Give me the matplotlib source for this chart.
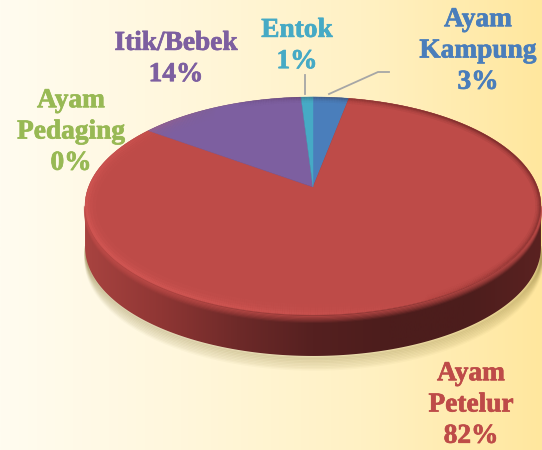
import numpy as np
import matplotlib
matplotlib.use("Agg")
import matplotlib.pyplot as plt
import matplotlib.patheffects as pe
from matplotlib.colors import LinearSegmentedColormap
from matplotlib.patches import Polygon
from matplotlib.collections import LineCollection

categories = ["Ayam\nKampung", "Ayam\nPetelur", "Ayam\nPedaging", "Itik/Bebek", "Entok"]
values = [3, 82, 0, 14, 1]
colors = ["#4a7ebb", "#be4b48", "#98b954", "#7d5fa0", "#46aac5"]
label_pos = [(478, 51), (471, 405), (71, 132), (176, 59), (297, 46)]

W, H = 542, 450
cx, cy = 313, 187
A, B, k = 224.5, 105.7, 0.174
depth = 41


def outline(theta):
    # tilted disc: maps an angle (clockwise from top) to the picture
    w = 1 + k * np.cos(theta)
    return cx + A * np.sin(theta) / w, cy - B * np.cos(theta) / w


fig = plt.figure(figsize=(W / 100, H / 100), dpi=100)
ax = fig.add_axes([0, 0, 1, 1])

bg = LinearSegmentedColormap.from_list("bg", ["#fffcf0", "#fff7dc", "#fff1c4", "#ffe79e"])
ax.imshow(np.linspace(0, 1, 256)[None, :], cmap=bg, extent=[0, W, H, 0], aspect="auto", zorder=0)

t = np.linspace(0, 2 * np.pi, 721)
ex, ey = outline(t)
left = int(np.argmin(ex))
right = int(np.argmax(ex))
# lower half runs from the right extreme to the left extreme
lx, ly = ex[right:left + 1], ey[right:left + 1]
side_xy = np.r_[np.c_[lx, ly + depth], np.c_[ex[left:], ey[left:]], np.c_[ex[:right + 1], ey[:right + 1]]]

# soft shadow under the disc
for i in range(9):
    ax.plot(lx + 1, ly + depth + 1 + i * 1.5, color="#8a7a3a", lw=2.5, alpha=0.15 - i * 0.014, zorder=1)

side_cmap = LinearSegmentedColormap.from_list(
    "side", ["#a84340", "#8f3634", "#6e2a29", "#552020", "#4c1d1c", "#4c1d1c", "#5a2221"])
side = Polygon(side_xy, closed=True, fc="none", ec="none", zorder=2)
ax.add_patch(side)
im = ax.imshow(np.linspace(0, 1, 256)[None, :], cmap=side_cmap, aspect="auto",
               extent=[ex.min(), ex.max(), H, 0], zorder=2)
im.set_clip_path(side)
ax.set_xlim(0, W)
ax.set_ylim(H, 0)
ax.axis("off")

# front rim fades into the dark side
for i in range(6):
    ax.plot(lx, ly + 1 + i * 1.2, color="#be4b48", lw=1.6, alpha=0.6 - i * 0.1, zorder=2.5)

# slices, clockwise from the top
fracs = np.cumsum([0] + values) / sum(values) * 2 * np.pi
for v, c, a0, a1 in zip(values, colors, fracs[:-1], fracs[1:]):
    if v == 0:
        continue
    th = np.linspace(a0, a1, max(int(v * 8), 10))
    x, y = outline(th)
    ax.add_patch(Polygon(np.r_[[[cx, cy]], np.c_[x, y]], closed=True, fc=c, ec=c, lw=0.3, zorder=3))

# bevel along the rim: light on the left and the front, dark at the back right
surface = Polygon(np.c_[ex, ey], closed=True, fc="none", ec="none", zorder=4)
ax.add_patch(surface)
segs = np.stack([np.c_[ex[:-1], ey[:-1]], np.c_[ex[1:], ey[1:]]], axis=1)
mid = (t[:-1] + t[1:]) / 2
light = np.clip(-np.cos(mid) * 0.5 - np.sin(mid) * 0.9, 0, 1)
dark = np.clip(np.sin(mid) * 0.9 + np.cos(mid) * 0.4, 0, 1)
for lw, al in [(16, 0.06), (11, 0.09), (7, 0.13), (4, 0.16)]:
    rgba = np.zeros((len(mid), 4))
    rgba[:, :3] = matplotlib.colors.to_rgb("#f06a66")
    rgba[:, 3] = light * al
    lc = LineCollection(segs, colors=rgba, linewidths=lw, zorder=4)
    ax.add_collection(lc)
    lc.set_clip_path(surface)
    rgba = np.zeros((len(mid), 4))
    rgba[:, :3] = matplotlib.colors.to_rgb("#3a1212")
    rgba[:, 3] = dark * al * 1.2
    lc = LineCollection(segs, colors=rgba, linewidths=lw * 0.5, zorder=4)
    ax.add_collection(lc)
    lc.set_clip_path(surface)

# leader lines
ax.plot([304.5, 304.5], [75, 94], color="#a6a6a6", lw=1.3, zorder=5)
ax.plot([329, 378, 389], [94, 72, 72], color="#a6a6a6", lw=1.3, zorder=5)

for cat, v, c, (px, py) in zip(categories, values, colors, label_pos):
    ax.text(px, py, f"{cat}\n{v}%", color=c, ha="center", va="center", family="Liberation Serif",
            fontweight="bold", fontsize=19.7, linespacing=1.33, zorder=6,
            path_effects=[pe.withStroke(linewidth=0.5, foreground=c)])

fig.savefig("out.png", dpi=100)
